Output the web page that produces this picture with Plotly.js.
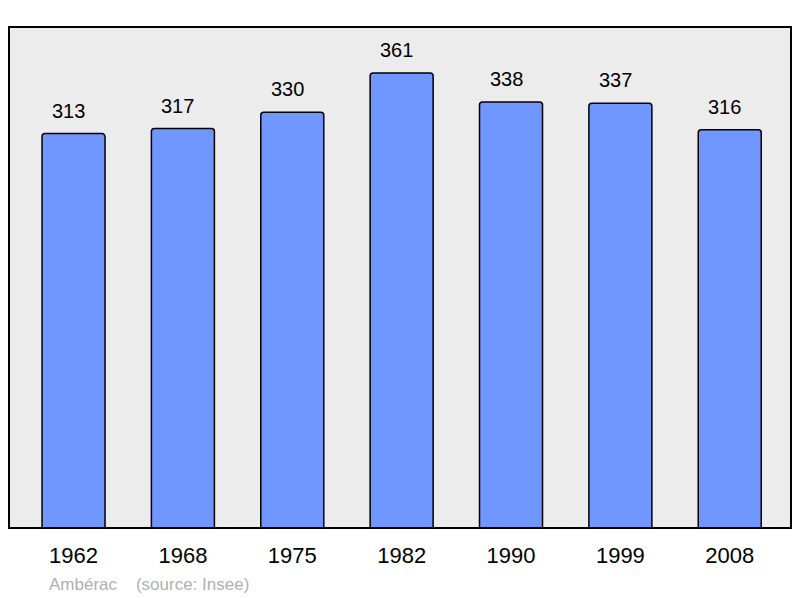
<!DOCTYPE html>
<html>
<head>
<meta charset="utf-8">
<script src="https://cdn.plot.ly/plotly-3.0.1.min.js"></script>
<style>html,body{margin:0;padding:0;background:#fff;}#chart{width:800px;height:598px;}</style>
</head>
<body>
<div id="chart"></div>
<script>
const years = ["1962", "1968", "1975", "1982", "1990", "1999", "2008"];
const population = [313, 317, 330, 361, 338, 337, 316];
const sourceText = "Ambérac    (source: Insee)";

const trace = {
  type: "bar",
  x: years,
  y: population,
  width: 0.576,
  marker: {color: "#7096ff", line: {color: "#000", width: 1.5}, cornerradius: 3},
  hoverinfo: "none"
};

const annotations = years.map((yr, i) => ({
  x: i, y: population[i], xref: "x", yref: "y",
  text: String(population[i]), showarrow: false,
  yanchor: "bottom", yshift: 10, xshift: -5,
  font: {family: "Liberation Sans, Arial, sans-serif", size: 20, color: "#000"}
}));
annotations.push({
  x: 0.0485, y: -0.112, xref: "paper", yref: "paper",
  xanchor: "left", yanchor: "middle", showarrow: false,
  text: sourceText,
  font: {family: "Liberation Sans, Arial, sans-serif", size: 17, color: "#b0b0b0"}
});

const layout = {
  width: 800, height: 598,
  margin: {l: 9, r: 9, t: 27, b: 70, pad: 0},
  paper_bgcolor: "#fff",
  plot_bgcolor: "#ececec",
  showlegend: false,
  xaxis: {
    type: "category", range: [-0.59, 6.56], showgrid: false, zeroline: false,
    showline: false, ticks: "", ticklabelstandoff: 12,
    tickfont: {family: "Liberation Sans, Arial, sans-serif", size: 22, color: "#000"}
  },
  yaxis: {range: [0, 397.6], showgrid: false, zeroline: false, showticklabels: false, ticks: "", showline: false},
  shapes: [{type: "rect", xref: "paper", yref: "paper", x0: 0, x1: 1, y0: 0, y1: 1,
    line: {color: "#000", width: 2}, fillcolor: "rgba(0,0,0,0)", layer: "above"}],
  annotations: annotations
};

Plotly.newPlot("chart", [trace], layout, {displayModeBar: false, staticPlot: true});
</script>
</body>
</html>
